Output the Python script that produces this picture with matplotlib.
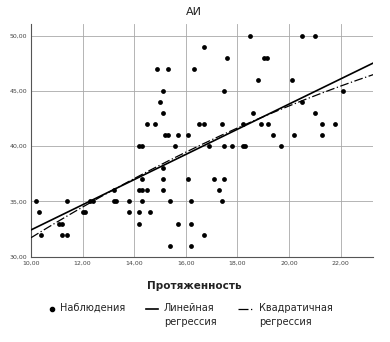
import numpy as np
import matplotlib.pyplot as plt
from matplotlib.lines import Line2D

obs_x = [18.5, 20.5, 21.0,
         16.7,
         17.6, 19.05, 19.15,
         14.9, 15.3, 16.3,
         18.8, 20.1,
         15.1, 17.5, 22.1,
         15.0, 20.5,
         15.1, 18.6, 21.0,
         14.5, 14.8, 16.5, 16.7, 17.4, 18.2, 18.9, 19.2, 21.3, 21.8,
         15.2, 15.3, 15.7, 16.1, 19.4, 20.2, 21.3,
         14.2, 14.3, 15.6, 16.9, 17.5, 17.8, 18.2, 18.3, 19.7,
         15.1,
         14.3, 15.1, 16.1, 17.1, 17.5,
         13.2, 14.2, 14.3, 14.5, 15.1, 17.3,
         10.2, 11.4, 12.3, 12.4, 13.2, 13.3, 13.8, 14.3, 15.4, 16.2, 17.4,
         10.3, 12.0, 12.1, 13.8, 14.2, 14.6,
         11.1, 11.2, 14.2, 15.7, 16.2,
         10.4, 11.2, 11.4, 16.7,
         15.4, 16.2]
obs_y = [50, 50, 50,
         49,
         48, 48, 48,
         47, 47, 47,
         46, 46,
         45, 45, 45,
         44, 44,
         43, 43, 43,
         42, 42, 42, 42, 42, 42, 42, 42, 42, 42,
         41, 41, 41, 41, 41, 41, 41,
         40, 40, 40, 40, 40, 40, 40, 40, 40,
         38,
         37, 37, 37, 37, 37,
         36, 36, 36, 36, 36, 36,
         35, 35, 35, 35, 35, 35, 35, 35, 35, 35, 35,
         34, 34, 34, 34, 34, 34,
         33, 33, 33, 33, 33,
         32, 32, 32, 32,
         31, 31]

x_ticks = [10, 12, 14, 16, 18, 20, 22]
y_ticks = [30, 35, 40, 45, 50]
legend_labels = ['Наблюдения', 'Линейная\nрегрессия', 'Квадратичная\nрегрессия']

x_lo, x_hi = 10, 23.27
y_lo, y_hi = 30, 51.05

obs_x = np.array(obs_x)
obs_y = np.array(obs_y, dtype=float)

# fitted lines
lin = np.polyfit(obs_x, obs_y, 1)
quad = np.polyfit(obs_x, obs_y, 2)
xx = np.linspace(x_lo, x_hi, 200)

W, H = 390, 342
fig = plt.figure(figsize=(W / 100, H / 100), dpi=100)
ax = fig.add_axes([31 / W, 1 - 256.7 / H, (373.3 - 31) / W, (256.7 - 24) / H])

ax.grid(True, color='#a8a8a8', linewidth=0.6)
ax.set_axisbelow(True)

dashdot = (0, (7, 2, 1, 2))
ax.plot(xx, np.polyval(lin, xx), color='black', linewidth=1.2, zorder=3)
ax.plot(xx, np.polyval(quad, xx), color='black', linewidth=0.9,
        linestyle=dashdot, zorder=3)
ax.scatter(obs_x, obs_y, s=12, color='black', zorder=4, linewidths=0)

ax.set_xlim(x_lo, x_hi)
ax.set_ylim(y_lo, y_hi)
ax.set_xticks(x_ticks)
ax.set_yticks(y_ticks)
ax.set_xticklabels([('%.2f' % v).replace('.', ',') for v in x_ticks])
ax.set_yticklabels([('%.2f' % v).replace('.', ',') for v in y_ticks])
ax.tick_params(length=0, labelsize=4.5, labelcolor='#444444', pad=3)

for s in ['top', 'right']:
    ax.spines[s].set_visible(False)
for s in ['left', 'bottom']:
    ax.spines[s].set_color('#555555')
    ax.spines[s].set_linewidth(0.8)

fig.text(194 / W, 1 - 12 / H, 'АИ', ha='center', va='center',
         fontsize=8, color='#222222')
fig.text(194 / W, 1 - 286 / H, 'Протяженность', ha='center', va='center',
         fontsize=7.5, fontweight='bold', color='#222222')

# legend drawn by hand so it sits like the original
row_y = 1 - 309 / H
fig.add_artist(Line2D([52 / W], [row_y], marker='o', markersize=3,
                      color='black', linestyle='none'))
fig.add_artist(Line2D([146 / W, 158 / W], [row_y, row_y], color='black', linewidth=1.2))
fig.add_artist(Line2D([238 / W, 253 / W], [row_y, row_y], color='black', linewidth=0.9,
                      linestyle=(0, (8, 2, 1, 2))))
for lx, lab in zip([60, 164, 259], legend_labels):
    fig.text(lx / W, 1 - 303 / H, lab, ha='left', va='top', fontsize=7,
             color='#222222', linespacing=1.45)

fig.savefig('out.png', dpi=100)
